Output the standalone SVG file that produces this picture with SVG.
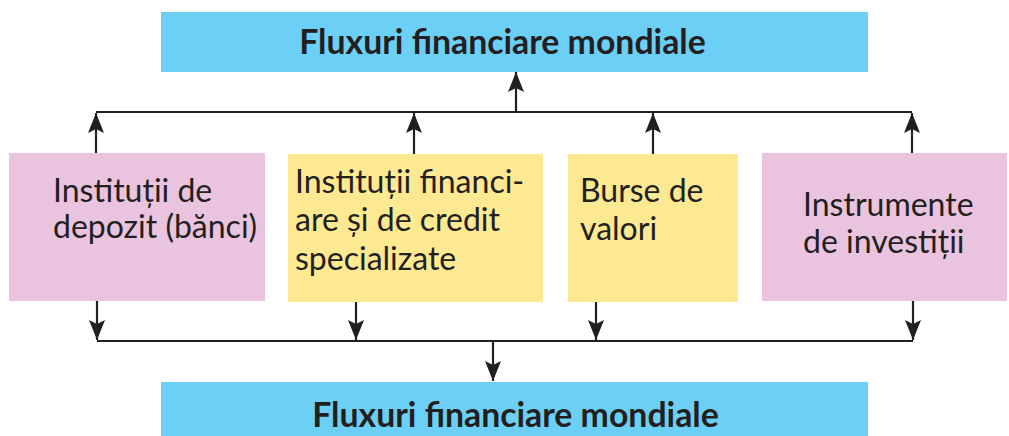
<svg xmlns="http://www.w3.org/2000/svg" width="1009" height="436" viewBox="0 0 1009 436">
<defs>
<marker id="ah" markerUnits="userSpaceOnUse" markerWidth="24" markerHeight="20" viewBox="-20 -10 22 20" refX="0" refY="0" orient="auto" overflow="visible">
<path d="M0,0 L-20,-8 L-16,0 L-20,8 Z" fill="#231f20"/>
</marker>
<style>
.blue{fill:#6ccff6}
.pink{fill:#eac4de}
.yellow{fill:#fde992}
.t{font-family:Lato,"Liberation Sans",sans-serif;font-size:32px;fill:#231f20}
.tb{font-family:Lato,"Liberation Sans",sans-serif;font-size:33.8px;font-weight:bold;fill:#231f20}
.c{stroke:#231f20;stroke-width:2.2;fill:none}
</style>
</defs>
<rect width="1009" height="436" fill="#fff"/>
<g id="top">
<rect class="blue" x="161" y="12" width="707" height="60"/>
<text class="tb" x="502.5" y="54" text-anchor="middle">Fluxuri financiare mondiale</text>
</g>
<g id="bottom">
<rect class="blue" x="161" y="382" width="707" height="54"/>
<text class="tb" x="515.5" y="427" text-anchor="middle">Fluxuri financiare mondiale</text>
</g>
<g id="n1">
<rect class="pink" x="9" y="153" width="256" height="148"/>
<text class="t" x="53" y="202">Instituții de</text>
<text class="t" x="53" y="238">depozit (bănci)</text>
</g>
<g id="n2">
<rect class="yellow" x="288" y="154" width="255" height="148"/>
<text class="t" x="295" y="193">Instituții financi-</text>
<text class="t" x="295" y="231">are și de credit</text>
<text class="t" x="295" y="270">specializate</text>
</g>
<g id="n3">
<rect class="yellow" x="568" y="154" width="170" height="148"/>
<text class="t" x="580" y="202">Burse de</text>
<text class="t" x="580" y="240">valori</text>
</g>
<g id="n4">
<rect class="pink" x="762" y="153" width="245" height="148"/>
<text class="t" x="803" y="216">Instrumente</text>
<text class="t" x="803" y="253">de investiții</text>
</g>
<g id="connectors">
<path class="c" d="M96,112 H912"/>
<path class="c" d="M516,112 V72" marker-end="url(#ah)"/>
<path class="c" d="M96,153 V113" marker-end="url(#ah)"/>
<path class="c" d="M414,154 V113" marker-end="url(#ah)"/>
<path class="c" d="M653,154 V113" marker-end="url(#ah)"/>
<path class="c" d="M912,153 V113" marker-end="url(#ah)"/>
<path class="c" d="M97,341 H913"/>
<path class="c" d="M97,301 V340" marker-end="url(#ah)"/>
<path class="c" d="M356,302 V340" marker-end="url(#ah)"/>
<path class="c" d="M596,302 V340" marker-end="url(#ah)"/>
<path class="c" d="M913,301 V340" marker-end="url(#ah)"/>
<path class="c" d="M493,341 V381" marker-end="url(#ah)"/>
</g>
</svg>
